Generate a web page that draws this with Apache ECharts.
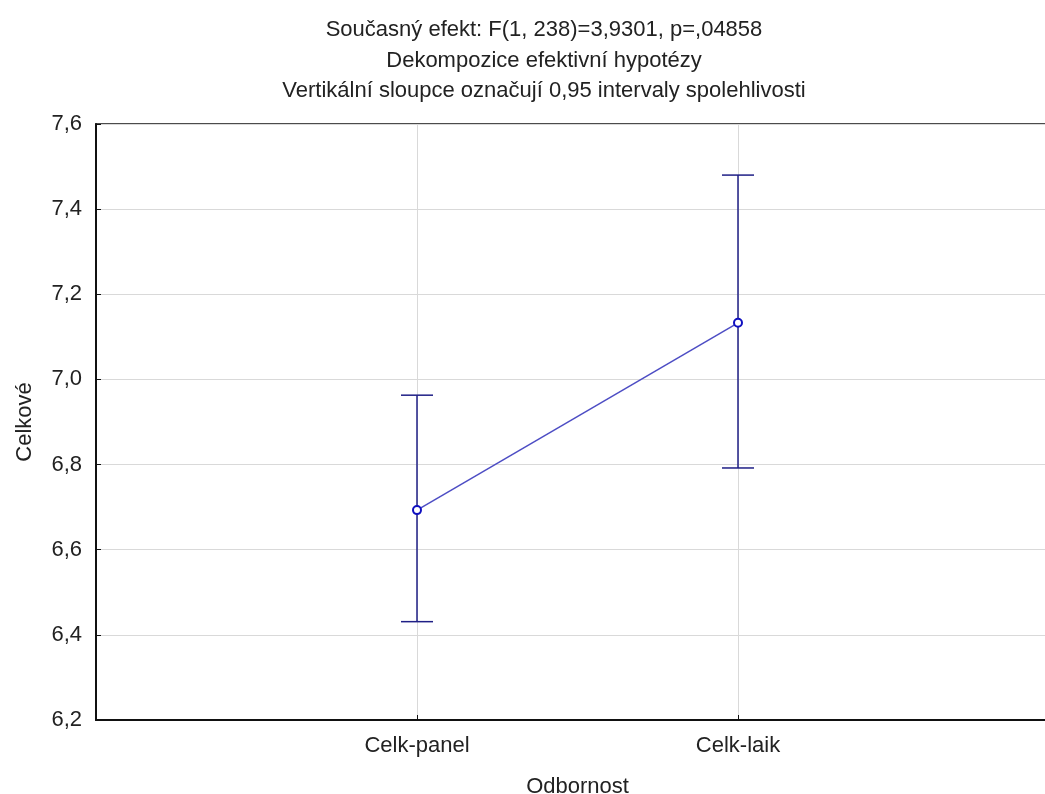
<!DOCTYPE html>
<html><head><meta charset="utf-8">
<script src="https://cdn.jsdelivr.net/npm/echarts@6/dist/echarts.min.js"></script>
<style>html,body{margin:0;padding:0;background:#fff}#c{width:1045px;height:794px}</style>
</head><body><div id="c"></div>
<script>
const categories = ['Celk-panel', 'Celk-laik'];
const means = [6.693, 7.133];
const upper = [6.963, 7.480];
const lower = [6.431, 6.792];
const yTicks = [6.2, 7.6, 0.2]; // min, max, step
const titleLines = ['Současný efekt: F(1, 238)=3,9301, p=,04858', 'Dekompozice efektivní hypotézy', 'Vertikální sloupce označují 0,95 intervaly spolehlivosti'];

const F = '"Liberation Sans", Arial, sans-serif';
const FS = 22;
const chart = echarts.init(document.getElementById('c'));
const pos = categories.map((c, i) => i + 1);
chart.setOption({
  animation: false,
  title: {
    text: titleLines.join('\n'),
    left: 539, top: 10, textAlign: 'center',
    textStyle: {fontFamily: F, fontSize: FS, fontWeight: 'normal', color: '#222', lineHeight: 30.5}
  },
  grid: {left: 96, top: 124, width: 963, height: 596, outerBoundsMode: 'none', containLabel: false,
    show: true, borderColor: '#111', borderWidth: 1.5, backgroundColor: 'transparent'},
  xAxis: {
    type: 'value', min: 0, max: categories.length + 1, interval: 1,
    name: 'Odbornost', nameLocation: 'middle', nameGap: 56,
    nameTextStyle: {fontFamily: F, fontSize: FS, color: '#222'},
    axisLine: {show: true, lineStyle: {color: '#111', width: 2}},
    axisTick: {show: true, inside: true, length: 5, lineStyle: {color: '#111'}},
    axisLabel: {fontFamily: F, fontSize: FS, color: '#222', margin: 15,
      formatter: v => (v >= 1 && v <= categories.length && Number.isInteger(v)) ? categories[v - 1] : ''},
    splitLine: {show: true, lineStyle: {color: '#d9d9d9', width: 1}}
  },
  yAxis: {
    type: 'value', min: yTicks[0], max: yTicks[1], interval: yTicks[2],
    name: 'Celkové', nameLocation: 'middle', nameGap: 60,
    nameTextStyle: {fontFamily: F, fontSize: FS, color: '#222'},
    axisLine: {show: true, lineStyle: {color: '#111', width: 2}},
    axisTick: {show: true, inside: true, length: 5, lineStyle: {color: '#111'}},
    axisLabel: {fontFamily: F, fontSize: FS, color: '#222', margin: 14,
      formatter: v => v.toFixed(1).replace('.', ',')},
    splitLine: {show: true, lineStyle: {color: '#d9d9d9', width: 1}}
  },
  series: [
    {
      type: 'custom',
      data: pos.map((p, i) => [p, lower[i], upper[i]]),
      renderItem: (params, api) => {
        const x = api.value(0);
        const lo = api.coord([x, api.value(1)]);
        const hi = api.coord([x, api.value(2)]);
        const hw = 16;
        const st = {stroke: '#1f1f86', lineWidth: 1.5};
        return {type: 'group', children: [
          {type: 'line', shape: {x1: lo[0], y1: lo[1], x2: hi[0], y2: hi[1]}, style: st},
          {type: 'line', shape: {x1: lo[0] - hw, y1: lo[1], x2: lo[0] + hw, y2: lo[1]}, style: st},
          {type: 'line', shape: {x1: hi[0] - hw, y1: hi[1], x2: hi[0] + hw, y2: hi[1]}, style: st}
        ]};
      },
      z: 3
    },
    {
      type: 'line',
      data: pos.map((p, i) => [p, means[i]]),
      lineStyle: {color: '#4d4dc4', width: 1.5},
      symbol: 'circle', symbolSize: 8,
      itemStyle: {color: '#fff', borderColor: '#1010c0', borderWidth: 2},
      z: 4
    }
  ]
});
</script></body></html>
